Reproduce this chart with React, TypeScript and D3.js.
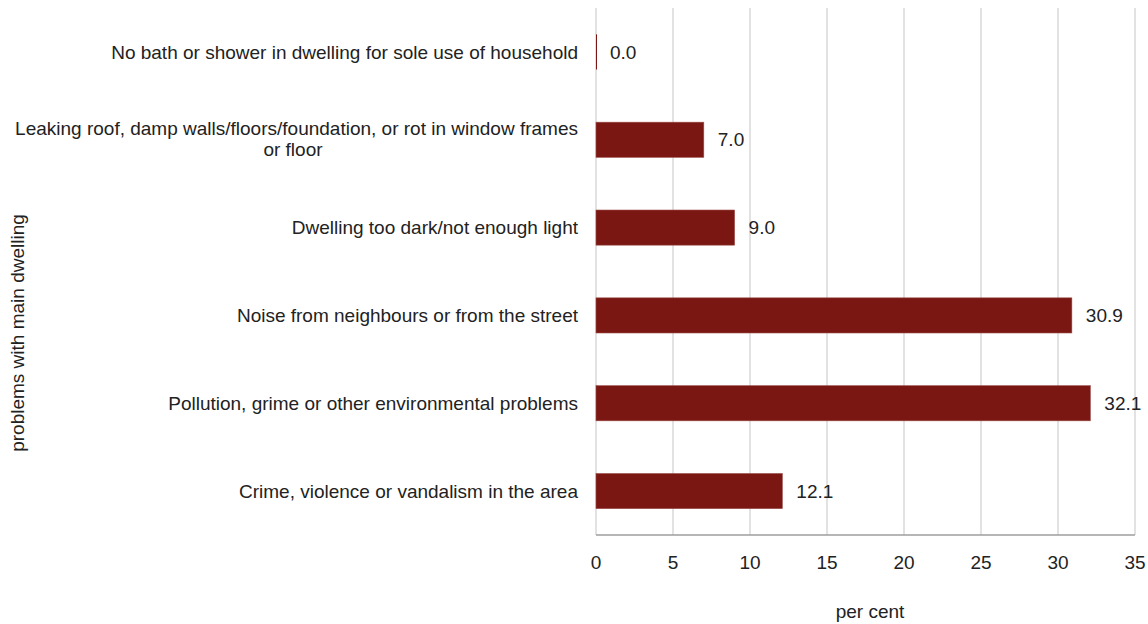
import React from "react";
import * as d3 from "d3";

const categories = [
  "No bath or shower in dwelling for sole use of household",
  "Leaking roof, damp walls/floors/foundation, or rot in window frames|or floor",
  "Dwelling too dark/not enough light",
  "Noise from neighbours or from the street",
  "Pollution, grime or other environmental problems",
  "Crime, violence or vandalism in the area",
];
const values = [0.0, 7.0, 9.0, 30.9, 32.1, 12.1];
const xTicks = [0, 5, 10, 15, 20, 25, 30, 35];
const xTitle = "per cent";
const yTitle = "problems with main dwelling";

export default function App() {
  const W = 1148, H = 624;
  const left = 596, right = 1135, top = 8, bottom = 535;
  const fs = 19;
  const labelX = 578;
  const x = d3.scaleLinear().domain([0, 35]).range([left, right]);
  const y = d3.scaleBand().domain(categories).range([top, bottom]).paddingInner(0.6).paddingOuter(0.3);
  const font = "'Liberation Sans', Arial, sans-serif";
  return (
    <svg width={W} height={H} style={{ position: "absolute", left: 0, top: 0, background: "#fff" }} fontFamily={font}>
      {xTicks.map((t) => (
        <line key={t} x1={x(t)} x2={x(t)} y1={top} y2={bottom} stroke="#d9d9d9" strokeWidth={1.5} />
      ))}
      {categories.map((c, i) => {
        const by = y(c)!;
        const bw = Math.max(x(values[i]) - x(0), 1);
        const lines = c.split("|");
        const cy = by + y.bandwidth() / 2;
        const lh = 21;
        return (
          <g key={c}>
            <rect x={x(0)} y={by} width={bw} height={y.bandwidth()} fill="#7a1712" stroke="#9a4a46" strokeWidth={values[i] === 0 ? 0 : 0.6} />
            <text x={x(values[i]) + 14} y={cy} dy="0.35em" fontSize={fs} fill="#222">
              {values[i].toFixed(1)}
            </text>
            {lines.length === 1 ? (
              <text x={labelX} y={cy} dy="0.35em" fontSize={fs} fill="#222" textAnchor="end">{c}</text>
            ) : (
              <g>
                <text x={labelX} y={cy - lh / 2 - 1} dy="0.35em" fontSize={fs} fill="#222" textAnchor="end">{lines[0]}</text>
                <text x={293} y={cy + lh / 2 - 1} dy="0.35em" fontSize={fs} fill="#222" textAnchor="middle">{lines[1]}</text>
              </g>
            )}
          </g>
        );
      })}
      <line x1={left} x2={right} y1={bottom} y2={bottom} stroke="#9e9e9e" strokeWidth={1.5} />
      {xTicks.map((t) => (
        <text key={t} x={x(t)} y={562} dy="0.35em" textAnchor="middle" fontSize={fs} fill="#222">
          {t}
        </text>
      ))}
      <text x={870} y={618} textAnchor="middle" fontSize={fs} fill="#222">{xTitle}</text>
      <text transform={`translate(24,333) rotate(-90)`} textAnchor="middle" fontSize={fs} fill="#222">{yTitle}</text>
    </svg>
  );
}
